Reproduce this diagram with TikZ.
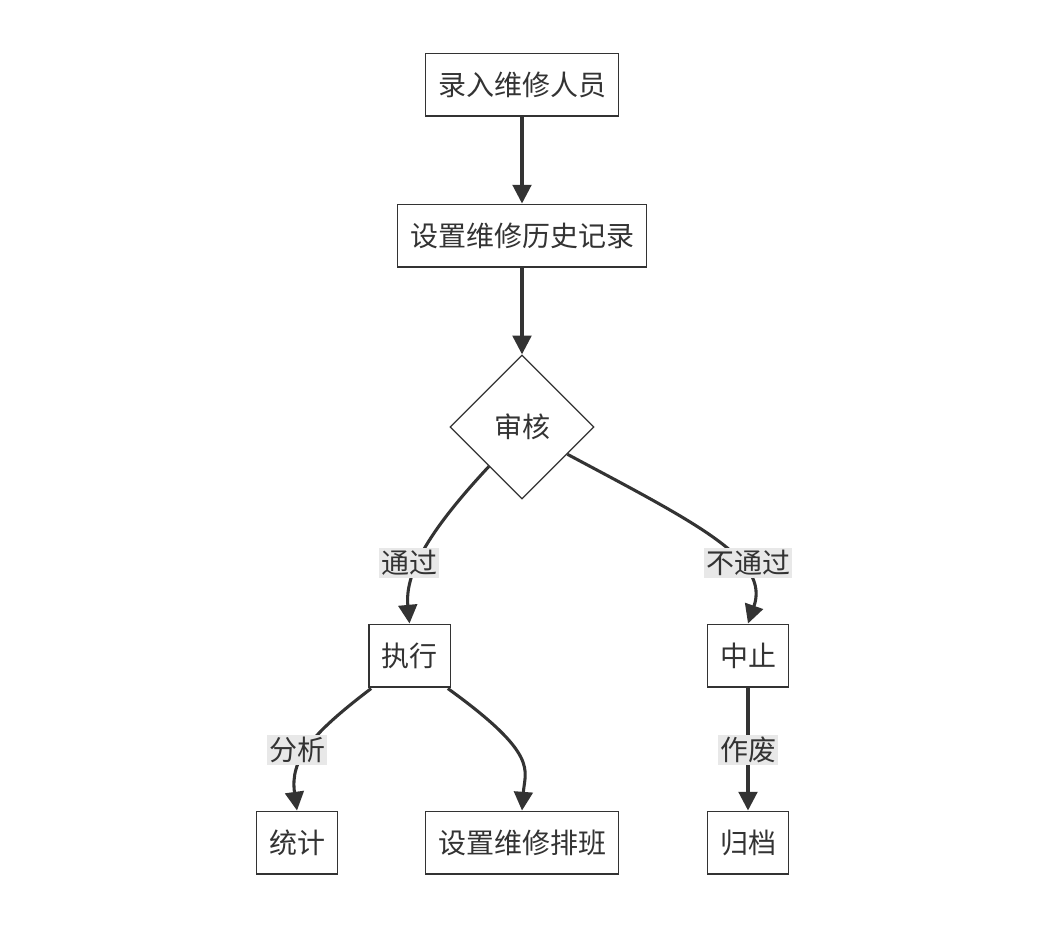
\documentclass[tikz,border=0pt]{standalone}
\usepackage{fontspec}
\setmainfont{Noto Sans CJK SC}
\usepackage{xcolor}
\usetikzlibrary{positioning,arrows.meta,shapes.geometric}
\definecolor{linec}{HTML}{333333}
\definecolor{lblbg}{HTML}{E8E8E8}
\begin{document}
\begin{tikzpicture}[
  x=0.75pt, y=-0.75pt,
  box/.style={draw=linec, line width=1pt, fill=white, text=linec, align=center, font=\fontsize{21}{24}\selectfont, minimum height=47pt, inner xsep=9.5pt},
  decide/.style={draw=linec, line width=1pt, fill=white, text=linec, diamond, aspect=1, inner sep=0pt, minimum size=108pt, font=\fontsize{21}{24}\selectfont},
  lbl/.style={fill=lblbg, text=linec, inner sep=1.5pt, font=\fontsize{21}{24}\selectfont},
  arr/.style={-{Triangle[length=14pt, width=14pt]}, draw=linec, line width=2.3pt}
]
\useasboundingbox (0,0) rectangle (1046,932);
\node[box] (luru) at (522,84.5) {录入维修人员};
\node[box] (lishi) at (522,235.5) {设置维修历史记录};
\node[decide] (shenhe) at (522,427) {审核};
\node[box] (zhixing) at (409.5,655.5) {执行};
\node[box] (zhongzhi) at (748,655.5) {中止};
\node[box] (tongji) at (297,842.5) {统计};
\node[box] (paiban) at (522,842.5) {设置维修排班};
\node[box] (guidang) at (748,842.5) {归档};
% edges
\draw[arr] (luru) -- (lishi);
\draw[arr] (lishi) -- (shenhe);
\draw[arr] (shenhe.230.5) .. controls (425,535) and (405,575) .. (zhixing.north);
\draw[arr] (shenhe.-31.3) .. controls (700,525) and (770,560) .. (zhongzhi.north);
\draw[arr] (zhixing.south west) ++(3,1) .. controls (310,735) and (290,760) .. (tongji.north);
\draw[arr] (zhixing.south east) ++(-3,1) .. controls (540,755) and (525,770) .. (paiban.north);
\draw[arr] (zhongzhi) -- (guidang);
% labels
\node[lbl] (tongguo) at (409,563) {通过};
\node[lbl] (butongguo) at (748,563) {不通过};
\node[lbl] (fenxi) at (297,750) {分析};
\node[lbl] (zuofei) at (748,750) {作废};
\end{tikzpicture}
\end{document}
